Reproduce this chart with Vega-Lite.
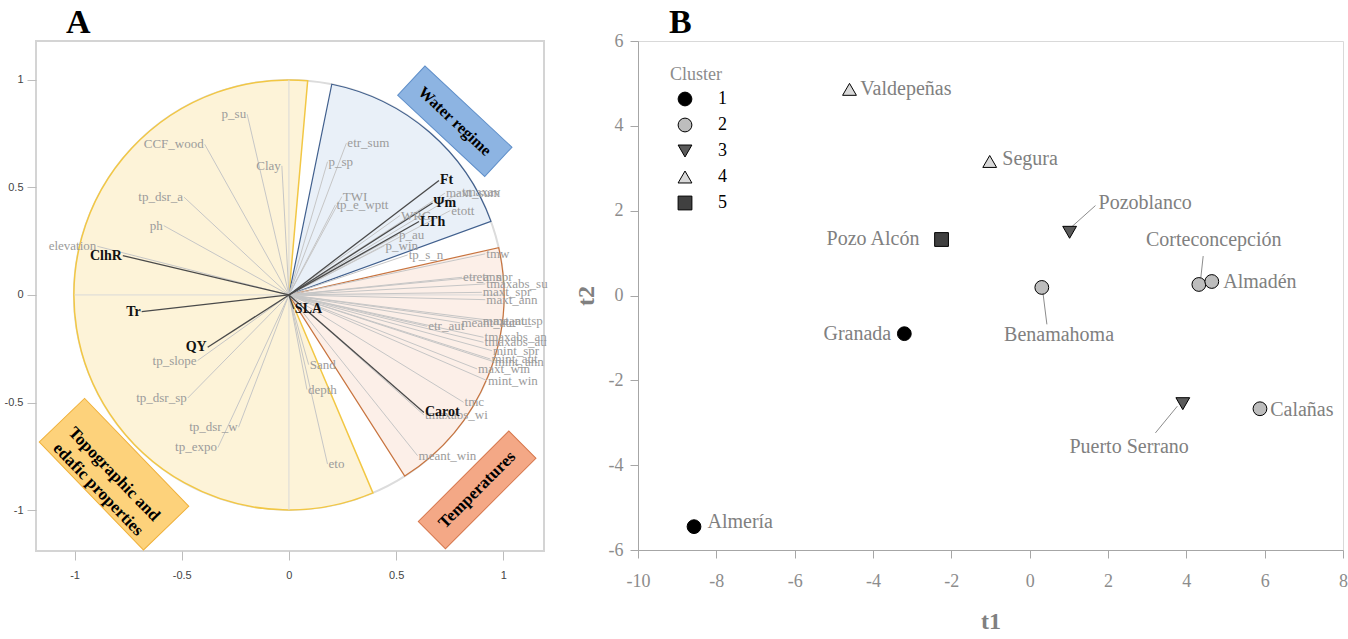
{
  "$schema": "https://vega.github.io/schema/vega-lite/v6.json",
  "padding": {"left": 3, "top": 5, "right": 0, "bottom": 0},
  "autosize": {"type": "pad"},
  "bounds": "flush",
  "spacing": 94,
  "config": {"font": "Liberation Serif", "axis": {"grid": false}},
  "datasets": {
    "vectors": [
      {"name": "p_su", "x": -0.195, "y": 0.84, "kind": "env"},
      {"name": "Clay", "x": -0.033, "y": 0.60, "kind": "env"},
      {"name": "CCF_wood", "x": -0.393, "y": 0.70, "kind": "env"},
      {"name": "tp_dsr_a", "x": -0.489, "y": 0.454, "kind": "env"},
      {"name": "ph", "x": -0.584, "y": 0.322, "kind": "env"},
      {"name": "elevation", "x": -0.894, "y": 0.226, "kind": "env"},
      {"name": "tp_slope", "x": -0.426, "y": -0.305, "kind": "env"},
      {"name": "tp_dsr_sp", "x": -0.472, "y": -0.479, "kind": "env"},
      {"name": "tp_dsr_w", "x": -0.235, "y": -0.615, "kind": "env"},
      {"name": "tp_expo", "x": -0.331, "y": -0.709, "kind": "env"},
      {"name": "Sand", "x": 0.092, "y": -0.324, "kind": "env"},
      {"name": "depth", "x": 0.084, "y": -0.44, "kind": "env"},
      {"name": "eto", "x": 0.18, "y": -0.786, "kind": "env"},
      {"name": "etr_sum", "x": 0.268, "y": 0.705, "kind": "env"},
      {"name": "p_sp", "x": 0.18, "y": 0.619, "kind": "env"},
      {"name": "TWI", "x": 0.247, "y": 0.457, "kind": "env"},
      {"name": "tp_e_wptt", "x": 0.217, "y": 0.419, "kind": "env"},
      {"name": "tmaxav", "x": 0.803, "y": 0.48, "kind": "env"},
      {"name": "maxt_sum", "x": 0.728, "y": 0.473, "kind": "env"},
      {"name": "etott", "x": 0.753, "y": 0.392, "kind": "env"},
      {"name": "WRC", "x": 0.518, "y": 0.369, "kind": "env"},
      {"name": "p_au", "x": 0.509, "y": 0.279, "kind": "env"},
      {"name": "p_win", "x": 0.446, "y": 0.229, "kind": "env"},
      {"name": "tp_s_n", "x": 0.554, "y": 0.186, "kind": "env"},
      {"name": "tmw", "x": 0.916, "y": 0.191, "kind": "env"},
      {"name": "etr_ann", "x": 0.808, "y": 0.082, "kind": "env"},
      {"name": "etr_spr", "x": 0.87, "y": 0.082, "kind": "env"},
      {"name": "tmaxabs_su", "x": 0.916, "y": 0.051, "kind": "env"},
      {"name": "maxt_spr", "x": 0.90, "y": 0.012, "kind": "env"},
      {"name": "maxt_ann", "x": 0.916, "y": -0.022, "kind": "env"},
      {"name": "etr_aut", "x": 0.645, "y": -0.146, "kind": "env"},
      {"name": "meant_aut", "x": 0.80, "y": -0.13, "kind": "env"},
      {"name": "maxt_aut", "x": 0.90, "y": -0.122, "kind": "env"},
      {"name": "meant_sp", "x": 0.947, "y": -0.119, "kind": "env"},
      {"name": "tmaxabs_an", "x": 0.908, "y": -0.197, "kind": "env"},
      {"name": "tmaxabs_au", "x": 0.908, "y": -0.22, "kind": "env"},
      {"name": "mint_spr", "x": 0.947, "y": -0.259, "kind": "env"},
      {"name": "mint_aut", "x": 0.94, "y": -0.298, "kind": "env"},
      {"name": "mint_ann", "x": 0.955, "y": -0.31, "kind": "env"},
      {"name": "maxt_win", "x": 0.878, "y": -0.344, "kind": "env"},
      {"name": "mint_win", "x": 0.924, "y": -0.398, "kind": "env"},
      {"name": "tmc", "x": 0.815, "y": -0.499, "kind": "env"},
      {"name": "tmaxabs_wi", "x": 0.63, "y": -0.558, "kind": "env"},
      {"name": "meant_win", "x": 0.60, "y": -0.747, "kind": "env"},
      {"name": "ClhR", "x": -0.775, "y": 0.183, "kind": "trait"},
      {"name": "Tr", "x": -0.687, "y": -0.078, "kind": "trait"},
      {"name": "QY", "x": -0.379, "y": -0.243, "kind": "trait"},
      {"name": "SLA", "x": 0.023, "y": -0.065, "kind": "trait"},
      {"name": "Ft", "x": 0.70, "y": 0.532, "kind": "trait"},
      {"name": "Ψm", "x": 0.67, "y": 0.427, "kind": "trait"},
      {"name": "LTh", "x": 0.607, "y": 0.341, "kind": "trait"},
      {"name": "Carot", "x": 0.63, "y": -0.546, "kind": "trait"}
    ],
    "sectors": [
      {"group": "circle", "x": 0, "y": 0, "t0": 0, "t1": 6.2832},
      {"group": "topo", "x": 0, "y": 0, "t0": -3.543, "t1": 0.0873},
      {"group": "water", "x": 0, "y": 0, "t0": 0.2007, "t1": 1.2217},
      {"group": "temp", "x": 0, "y": 0, "t0": 1.349, "t1": 2.5726}
    ],
    "cross": [
      {"x": -1, "y": 0, "x2": 1, "y2": 0},
      {"x": 0, "y": -1, "x2": 0, "y2": 1}
    ],
    "boxes": [
      {"label": "Water regime", "x": 0.774, "y": 0.807},
      {"label": "Topographic and\nedafic properties", "x": -0.816, "y": -0.833},
      {"label": "Temperatures", "x": 0.878, "y": -0.906}
    ],
    "sites": [
      {"site": "Valdepeñas", "t1": -4.6, "t2": 4.86, "cluster": "4", "lx": -3.16, "ly": 4.88},
      {"site": "Segura", "t1": -1.02, "t2": 3.16, "cluster": "4", "lx": 0.01, "ly": 3.21},
      {"site": "Pozo Alcón", "t1": -2.25, "t2": 1.32, "cluster": "5", "lx": -4.0, "ly": 1.34},
      {"site": "Pozoblanco", "t1": 1.02, "t2": 1.49, "cluster": "3", "lx": 2.95, "ly": 2.19},
      {"site": "Corteconcepción", "t1": 4.32, "t2": 0.26, "cluster": "2", "lx": 4.70, "ly": 1.30},
      {"site": "Almadén", "t1": 4.65, "t2": 0.33, "cluster": "2", "lx": 5.88, "ly": 0.32},
      {"site": "Benamahoma", "t1": 0.31, "t2": 0.19, "cluster": "2", "lx": 0.75, "ly": -0.94},
      {"site": "Granada", "t1": -3.2, "t2": -0.9, "cluster": "1", "lx": -4.40, "ly": -0.90},
      {"site": "Puerto Serrano", "t1": 3.91, "t2": -2.55, "cluster": "3", "lx": 2.54, "ly": -3.57},
      {"site": "Calañas", "t1": 5.88, "t2": -2.67, "cluster": "2", "lx": 6.95, "ly": -2.70},
      {"site": "Almería", "t1": -8.57, "t2": -5.45, "cluster": "1", "lx": -7.39, "ly": -5.35}
    ],
    "leaders": [
      {"site": "Pozoblanco", "t1": 1.05, "t2": 1.6, "e1": 1.68, "e2": 2.12},
      {"site": "Corteconcepción", "t1": 4.37, "t2": 0.42, "e1": 4.43, "e2": 0.93},
      {"site": "Benamahoma", "t1": 0.34, "t2": 0.06, "e1": 0.44, "e2": -0.68},
      {"site": "Puerto Serrano", "t1": 3.77, "t2": -2.61, "e1": 3.21, "e2": -3.24}
    ]
  },
  "hconcat": [
    {
      "width": 508,
      "height": 510,
      "view": {"stroke": "#d4d4d4", "strokeWidth": 2},
      "title": {"text": "A", "anchor": "start", "frame": "group", "dx": 30, "offset": -26, "baseline": "alphabetic", "font": "Liberation Serif", "fontSize": 34, "fontWeight": "bold", "color": "#000000"},
      "encoding": {
        "x": {"field": "x", "type": "quantitative", "title": null,
              "scale": {"domain": [-1.18, 1.19], "nice": false, "zero": false},
              "axis": {"values": [-1, -0.5, 0, 0.5, 1], "labelExpr": "datum.value < 0 ? '-' + format(-datum.value, '~g') : format(datum.value, '~g')", "domain": false, "tickColor": "#bdbdbd", "tickSize": 9, "labelFont": "Liberation Sans", "labelFontSize": 11, "labelColor": "#444444", "labelPadding": 9, "labelFlush": false, "labelOverlap": false, "title": null}},
        "y": {"field": "y", "type": "quantitative", "title": null,
              "scale": {"domain": [-1.19, 1.18], "nice": false, "zero": false},
              "axis": {"values": [-1, -0.5, 0, 0.5, 1], "labelExpr": "datum.value < 0 ? '-' + format(-datum.value, '~g') : format(datum.value, '~g')", "domain": false, "tickColor": "#bdbdbd", "tickSize": 9, "labelFont": "Liberation Sans", "labelFontSize": 11, "labelColor": "#444444", "labelPadding": 4, "labelFlush": false, "labelOverlap": false, "title": null}}
      },
      "layer": [
        {
          "data": {"name": "sectors"},
          "transform": [{"filter": "datum.group == 'circle'"}],
          "mark": {"type": "arc", "radius": 215, "fillOpacity": 0, "stroke": "#dcdcdc", "strokeWidth": 2},
          "encoding": {"theta": {"field": "t0", "type": "quantitative", "scale": null, "stack": null}, "theta2": {"field": "t1"}}
        },
        {
          "data": {"name": "sectors"},
          "transform": [{"filter": "datum.group == 'topo'"}],
          "mark": {"type": "arc", "radius": 215, "fill": "#fdf3d8", "stroke": "#f2c744", "strokeWidth": 1.5},
          "encoding": {"theta": {"field": "t0", "type": "quantitative", "scale": null, "stack": null}, "theta2": {"field": "t1"}}
        },
        {
          "data": {"name": "sectors"},
          "transform": [{"filter": "datum.group == 'water'"}],
          "mark": {"type": "arc", "radius": 215, "fill": "#e9f0f8", "stroke": "#41608e", "strokeWidth": 1.2},
          "encoding": {"theta": {"field": "t0", "type": "quantitative", "scale": null, "stack": null}, "theta2": {"field": "t1"}}
        },
        {
          "data": {"name": "sectors"},
          "transform": [{"filter": "datum.group == 'temp'"}],
          "mark": {"type": "arc", "radius": 215, "fill": "#fcefe8", "stroke": "#c8743f", "strokeWidth": 1.2},
          "encoding": {"theta": {"field": "t0", "type": "quantitative", "scale": null, "stack": null}, "theta2": {"field": "t1"}}
        },
        {
          "data": {"name": "cross"},
          "mark": {"type": "rule", "color": "#d9d9d9", "strokeWidth": 1},
          "encoding": {"x2": {"field": "x2"}, "y2": {"field": "y2"}}
        },
        {
          "data": {"name": "vectors"},
          "transform": [{"filter": "datum.kind == 'env'"}],
          "mark": {"type": "rule", "color": "#c6c6c6", "strokeWidth": 1},
          "encoding": {"x2": {"datum": 0}, "y2": {"datum": 0}}
        },
        {
          "data": {"name": "vectors"},
          "transform": [{"filter": "datum.kind == 'trait'"}],
          "mark": {"type": "rule", "color": "#4a4a4a", "strokeWidth": 1.3},
          "encoding": {"x2": {"datum": 0}, "y2": {"datum": 0}}
        },
        {
          "data": {"name": "vectors"},
          "transform": [{"filter": "datum.kind == 'env' && datum.x < 0"}],
          "mark": {"type": "text", "align": "right", "baseline": "middle", "dx": -1, "font": "Liberation Serif", "fontSize": 13, "color": "#9b9b9b"},
          "encoding": {"text": {"field": "name"}}
        },
        {
          "data": {"name": "vectors"},
          "transform": [{"filter": "datum.kind == 'env' && datum.x >= 0"}],
          "mark": {"type": "text", "align": "left", "baseline": "middle", "dx": 1, "font": "Liberation Serif", "fontSize": 13, "color": "#9b9b9b"},
          "encoding": {"text": {"field": "name"}}
        },
        {
          "data": {"name": "vectors"},
          "transform": [{"filter": "datum.kind == 'trait' && datum.x < 0"}],
          "mark": {"type": "text", "align": "right", "baseline": "middle", "dx": -1, "font": "Liberation Serif", "fontSize": 14, "fontWeight": "bold", "color": "#111111"},
          "encoding": {"text": {"field": "name"}}
        },
        {
          "data": {"name": "vectors"},
          "transform": [{"filter": "datum.kind == 'trait' && datum.x >= 0"}],
          "mark": {"type": "text", "align": "left", "baseline": "middle", "dx": 1, "font": "Liberation Serif", "fontSize": 14, "fontWeight": "bold", "color": "#111111"},
          "encoding": {"text": {"field": "name"}}
        },
        {
          "data": {"name": "boxes"},
          "transform": [{"filter": "datum.label == 'Water regime'"}],
          "mark": {"type": "point", "shape": "M-1,-0.336L1,-0.336L1,0.336L-1,0.336Z", "size": 14161, "angle": 43, "filled": true, "fill": "#8db4e2", "stroke": "#5f8fc9", "strokeWidth": 1, "opacity": 1}
        },
        {
          "data": {"name": "boxes"},
          "transform": [{"filter": "datum.label == 'Water regime'"}],
          "mark": {"type": "text", "angle": 43, "align": "center", "baseline": "middle", "font": "Liberation Serif", "fontSize": 16, "fontWeight": "bold", "color": "#000000"},
          "encoding": {"text": {"field": "label"}}
        },
        {
          "data": {"name": "boxes"},
          "transform": [{"filter": "indexof(datum.label, 'Topographic') == 0"}],
          "mark": {"type": "point", "shape": "M-1,-0.42L1,-0.42L1,0.42L-1,0.42Z", "size": 22500, "angle": 46, "filled": true, "fill": "#fdd27b", "stroke": "#f0b13a", "strokeWidth": 1, "opacity": 1}
        },
        {
          "data": {"name": "boxes"},
          "transform": [{"filter": "indexof(datum.label, 'Topographic') == 0"}],
          "mark": {"type": "text", "angle": 46, "align": "center", "baseline": "middle", "lineBreak": "\n", "lineHeight": 22, "font": "Liberation Serif", "fontSize": 17, "fontWeight": "bold", "color": "#000000"},
          "encoding": {"text": {"field": "label"}}
        },
        {
          "data": {"name": "boxes"},
          "transform": [{"filter": "datum.label == 'Temperatures'"}],
          "mark": {"type": "point", "shape": "M-1,-0.3L1,-0.3L1,0.3L-1,0.3Z", "size": 16384, "angle": 315, "filled": true, "fill": "#f4a886", "stroke": "#d6774d", "strokeWidth": 1, "opacity": 1}
        },
        {
          "data": {"name": "boxes"},
          "transform": [{"filter": "datum.label == 'Temperatures'"}],
          "mark": {"type": "text", "angle": 315, "align": "center", "baseline": "middle", "font": "Liberation Serif", "fontSize": 17, "fontWeight": "bold", "color": "#000000"},
          "encoding": {"text": {"field": "label"}}
        }
      ]
    },
    {
      "width": 705,
      "height": 509,
      "view": {"stroke": "#d9d9d9", "strokeWidth": 1},
      "title": {"text": "B", "anchor": "start", "frame": "group", "dx": 31, "offset": -35, "baseline": "alphabetic", "font": "Liberation Serif", "fontSize": 34, "fontWeight": "bold", "color": "#000000"},
      "encoding": {
        "x": {"field": "t1", "type": "quantitative", "title": "t1",
              "scale": {"domain": [-10, 8], "nice": false, "zero": false},
              "axis": {"values": [-10, -8, -6, -4, -2, 0, 2, 4, 6, 8], "labelExpr": "datum.value < 0 ? '-' + format(-datum.value, '~g') : format(datum.value, '~g')", "domainColor": "#a6a6a6", "tickColor": "#a6a6a6", "tickSize": 8, "labelFont": "Liberation Serif", "labelFontSize": 18, "labelColor": "#8c8c8c", "labelPadding": 14, "labelFlush": false, "labelOverlap": false, "titleFont": "Liberation Serif", "titleFontSize": 24, "titleFontWeight": "bold", "titleColor": "#808080", "titlePadding": 19}},
        "y": {"field": "t2", "type": "quantitative", "title": "t2",
              "scale": {"domain": [-6, 6], "nice": false, "zero": false},
              "axis": {"values": [-6, -4, -2, 0, 2, 4, 6], "labelExpr": "datum.value < 0 ? '-' + format(-datum.value, '~g') : format(datum.value, '~g')", "domainColor": "#a6a6a6", "tickColor": "#a6a6a6", "tickSize": 8, "labelFont": "Liberation Serif", "labelFontSize": 18, "labelColor": "#8c8c8c", "labelPadding": 7, "labelFlush": false, "labelOverlap": false, "titleFont": "Liberation Serif", "titleFontSize": 24, "titleFontWeight": "bold", "titleColor": "#808080", "titlePadding": 10}}
      },
      "layer": [
        {
          "data": {"name": "leaders"},
          "mark": {"type": "rule", "color": "#8c8c8c", "strokeWidth": 1},
          "encoding": {"x2": {"field": "e1"}, "y2": {"field": "e2"}}
        },
        {
          "data": {"name": "sites"},
          "mark": {"type": "point", "filled": true, "size": 190, "strokeWidth": 1, "opacity": 1},
          "encoding": {
            "fill": {"field": "cluster", "type": "nominal", "title": "Cluster",
                     "scale": {"domain": ["1", "2", "3", "4", "5"], "range": ["#000000", "#bdbdbd", "#5a5a5a", "#d9d9d9", "#404040"]},
                     "legend": {"orient": "none", "legendX": 634, "legendY": 25, "padding": 0, "titleFont": "Liberation Serif", "titleFontSize": 18, "titleFontWeight": "normal", "titleColor": "#8c8c8c", "titlePadding": 6, "labelFont": "Liberation Serif", "labelFontSize": 18, "labelColor": "#000000", "symbolSize": 190, "symbolStrokeWidth": 1, "symbolOpacity": 1, "symbolOffset": 6, "labelOffset": 24, "rowPadding": 8}},
            "stroke": {"field": "cluster", "type": "nominal", "title": "Cluster",
                     "scale": {"domain": ["1", "2", "3", "4", "5"], "range": ["#000000", "#000000", "#000000", "#000000", "#000000"]},
                     "legend": {"orient": "none", "legendX": 634, "legendY": 25, "padding": 0, "titleFont": "Liberation Serif", "titleFontSize": 18, "titleFontWeight": "normal", "titleColor": "#8c8c8c", "titlePadding": 6, "labelFont": "Liberation Serif", "labelFontSize": 18, "labelColor": "#000000", "symbolSize": 190, "symbolStrokeWidth": 1, "symbolOpacity": 1, "symbolOffset": 6, "labelOffset": 24, "rowPadding": 8}},
            "shape": {"field": "cluster", "type": "nominal", "title": "Cluster",
                      "scale": {"domain": ["1", "2", "3", "4", "5"], "range": ["circle", "circle", "triangle-down", "triangle-up", "square"]},
                      "legend": {"orient": "none", "legendX": 634, "legendY": 25, "padding": 0, "titleFont": "Liberation Serif", "titleFontSize": 18, "titleFontWeight": "normal", "titleColor": "#8c8c8c", "titlePadding": 6, "labelFont": "Liberation Serif", "labelFontSize": 18, "labelColor": "#000000", "symbolSize": 190, "symbolStrokeWidth": 1, "symbolOpacity": 1, "symbolOffset": 6, "labelOffset": 24, "rowPadding": 8}}
          }
        },
        {
          "data": {"name": "sites"},
          "mark": {"type": "text", "align": "center", "baseline": "middle", "font": "Liberation Serif", "fontSize": 20, "color": "#808080"},
          "encoding": {
            "x": {"field": "lx", "type": "quantitative", "title": "t1", "scale": {"domain": [-10, 8], "nice": false, "zero": false}},
            "y": {"field": "ly", "type": "quantitative", "title": "t2", "scale": {"domain": [-6, 6], "nice": false, "zero": false}},
            "text": {"field": "site"}
          }
        }
      ]
    }
  ]
}
